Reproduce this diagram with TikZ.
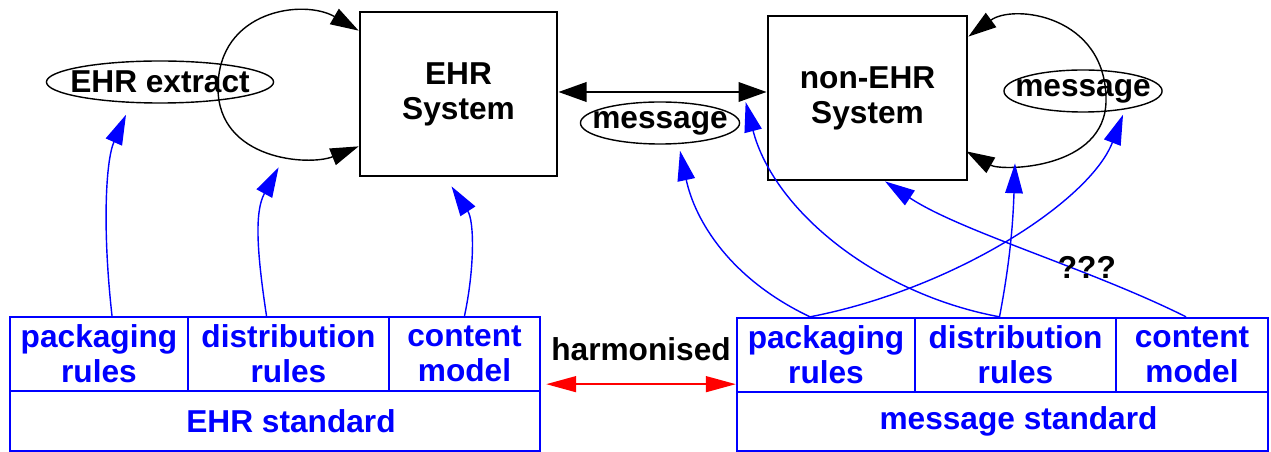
\documentclass[tikz,border=0pt]{standalone}
\usepackage{fontspec}
\setmainfont{Liberation Sans}
\usetikzlibrary{arrows.meta,calc,shapes.geometric}

\begin{document}
\begin{tikzpicture}[x=0.01cm, y=-0.01cm,
  font=\fontsize{9}{10}\selectfont\bfseries,
  sysbox/.style={draw, line width=0.75pt, align=center, minimum height=1.64cm},
  bubble/.style={ellipse, draw, line width=0.4pt, inner sep=0pt, minimum height=0.42cm},
  cell/.style={draw=blue, line width=0.65pt, text=blue, align=center, inner sep=0pt, minimum height=0.74cm},
  link/.style={blue, line width=0.4pt, -{Triangle[length=8.5pt,width=5pt]}},
  selfarc/.style={line width=0.4pt, {Triangle[length=8pt,width=5pt]}-{Triangle[length=8pt,width=5pt]}}]
\useasboundingbox (0,0) rectangle (1271,452);

% the two systems and what passes between them
\node[sysbox, minimum width=1.97cm] (ehr) at (458.5,94) {EHR\\System};
\node[sysbox, minimum width=1.99cm] (nonehr) at (867.5,98) {non-EHR\\System};
\node[bubble, minimum width=2.27cm] (extract) at (160,82) {\makebox[0pt]{EHR extract}};
\node[bubble, minimum width=1.59cm] (msgA) at (660,123) {\makebox[0pt]{message}};
\node[bubble, minimum width=1.58cm] (msgB) at (1083,91) {\makebox[0pt]{message}};

\draw[selfarc] ($(ehr.south west)+(0,-31)$) .. controls +(-50,20) and +(0,72) .. (218,88)
  .. controls +(0,-78) and +(-55,-32) .. ($(ehr.north west)+(0,20)$);
\draw[selfarc] ($(nonehr.south east)+(-2,-30)$) .. controls +(35,20) and +(0,70) .. (1106,100)
  .. controls +(0,-85) and +(45,-33) .. ($(nonehr.north east)+(0,22)$);
\draw[line width=0.75pt, {Triangle[length=8pt,width=5.5pt]}-{Triangle[length=8pt,width=5.5pt]}]
  ($(ehr.east)+(0,-2)$) -- ($(nonehr.west)+(0,-6)$);

% EHR standard
\node[cell, minimum width=1.78cm] (pkgL) at (99,354) {packaging\\rules};
\node[cell, minimum width=2.01cm] (distL) at (288.5,354) {distribution\\rules};
\node[cell, minimum width=1.51cm] (contL) at (464.5,354) {content\\model};
\node[cell, minimum width=5.30cm, minimum height=0.60cm,
  label={[blue, xshift=0.16cm]center:EHR standard}] (stdL) at (275,421) {};

% message standard
\node[cell, minimum width=1.78cm] (pkgR) at (826,355) {packaging\\rules};
\node[cell, minimum width=2.01cm] (distR) at (1015.5,355) {distribution\\rules};
\node[cell, minimum width=1.52cm] (contR) at (1192,355) {content\\model};
\node[cell, minimum width=5.31cm, minimum height=0.59cm,
  label={[blue, xshift=0.16cm]center:message standard}] (stdR) at (1002.5,421.5) {};

\draw[red, line width=0.5pt, {Triangle[length=8.5pt,width=4.5pt]}-{Triangle[length=8.5pt,width=4.5pt]}]
  ($(contL.south east)+(5,-8)$) -- ($(pkgR.south west)+(0,-9)$)
  node[midway, above=3pt, black] (harm) {harmonised};

% which part of each standard governs what
\draw[link] ($(pkgL.north)+(13,0)$) .. controls +(-10,-90) and +(-20,45) .. ($(extract.south)+(-34,11)$);
\draw[link] ($(distL.north)+(-22,0)$) .. controls +(-10,-66) and +(-24,44) .. ($(ehr.south west)+(-80,-10)$);
\draw[link] (contL.north) .. controls +(10,-47) and +(23,35) .. ($(ehr.south)+(-7,9)$);
\draw[link] ($(pkgR.north)+(-16,0)$) .. controls +(-80,-38) and +(15,70) .. ($(msgA.south)+(20,6)$);
\draw[link] ($(pkgR.north)+(-16,0)$) .. controls +(145,-28) and +(-33,86) .. ($(msgB.south)+(40,2)$);
\draw[link] ($(distR.north)+(-16,0)$) .. controls +(11,-58) and +(-2,58) .. ($(nonehr.south)+(147.5,-18)$);
\draw[link] ($(distR.north)+(-16,0)$) .. controls +(-124,-23) and +(28,108) .. ($(nonehr.west)+(-21,4)$);
\draw[link] ($(contR.north)+(-6,0)$) .. controls +(-96,-48) and +(75,50) .. ($(nonehr.south)+(17.5,0)$)
  node[pos=0.3, inner sep=0pt, xshift=-0.06cm, yshift=0.08cm, black] (unk) {???};
\end{tikzpicture}
\end{document}
